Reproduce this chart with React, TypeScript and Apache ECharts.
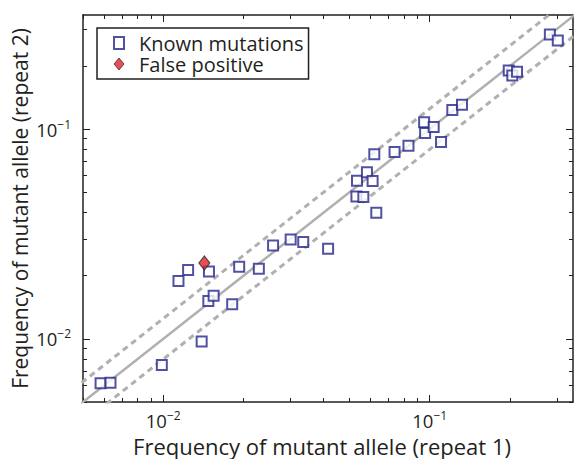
import React, { useEffect, useRef } from "react";
import * as echarts from "echarts";

// ---- data ----
const knownX = [0.00582, 0.00634, 0.00988, 0.01394, 0.01141, 0.0124, 0.01485, 0.01477, 0.01546, 0.01815, 0.01928, 0.02285, 0.02584, 0.03008, 0.03353, 0.04157, 0.05336, 0.05815, 0.06107, 0.05309, 0.05637, 0.06304, 0.06196, 0.07382, 0.08325, 0.0953, 0.09612, 0.1035, 0.1103, 0.1216, 0.1322, 0.198, 0.2042, 0.2127, 0.2825, 0.3025];
const knownY = [0.00614, 0.00617, 0.00751, 0.00971, 0.01886, 0.02128, 0.02096, 0.01514, 0.01604, 0.01464, 0.02207, 0.02159, 0.02788, 0.02979, 0.02895, 0.02689, 0.05679, 0.0622, 0.05659, 0.04778, 0.04747, 0.03994, 0.07583, 0.07786, 0.0834, 0.1078, 0.0959, 0.1024, 0.0869, 0.1235, 0.1305, 0.1902, 0.1801, 0.1875, 0.2825, 0.2645];
const falseX = [0.01427];
const falseY = [0.02298];
const xRange = [0.005, 0.345];
const yRange = [0.005, 0.35];
const lineExtent = [0.003, 0.6];
const bandFactor = 1.25;
const majorTicks = [0.01, 0.1];
const minorTicks = [0.005, 0.006, 0.007, 0.008, 0.009, 0.02, 0.03, 0.04, 0.05, 0.06, 0.07, 0.08, 0.09, 0.2, 0.3];
const seriesNames = ["Known mutations", "False positive"];
const xTitle = "Frequency of mutant allele (repeat 1)";
const yTitle = "Frequency of mutant allele (repeat 2)";

const FONT = "Open Sans";
const INK = "#231f20";
const BLUE = "#25258a";
const RED = "#e3202a";
const GRAY = "#b0b0b0";

const fmt = (v: number) => {
  const e = Math.round(Math.log10(v));
  return `{b|10}{s|\u2212${-e}}`;
};
const rich = {
  b: { fontSize: 18.5, fontFamily: FONT, color: INK, lineHeight: 16 },
  s: { fontSize: 12, fontFamily: FONT, color: INK, padding: [0, 0, 10, 0], lineHeight: 12 },
};

function axis(kind: "x" | "y", pos: string, ticks: number[], len: number, labels: boolean, line: boolean, extra: any = {}) {
  const r = kind === "x" ? xRange : yRange;
  return {
    type: "log",
    logBase: 10,
    position: pos,
    min: r[0],
    max: r[1],
    axisLine: { show: line, onZero: false, lineStyle: { color: INK, width: 1.5 } },
    axisTick: { show: true, inside: true, length: len, customValues: ticks, lineStyle: { color: INK, width: 1 } },
    axisLabel: labels
      ? { show: true, customValues: majorTicks, formatter: fmt, rich, margin: kind === "x" ? 10 : 12 }
      : { show: false },
    splitLine: { show: false },
    minorTick: { show: false },
    ...extra,
  };
}

export default function App() {
  const ref = useRef<HTMLDivElement>(null);
  useEffect(() => {
    const chart = echarts.init(ref.current!, null, { renderer: "svg" });
    const line = (k: number, dashed: boolean) => ({
      type: "line",
      data: lineExtent.map((x) => [x, x * k]),
      showSymbol: false,
      clip: true,
      silent: true,
      z: 1,
      lineStyle: dashed
        ? { color: GRAY, width: 3, type: [6, 4.5] }
        : { color: GRAY, width: 2.5 },
      legendHoverLink: false,
    });
    chart.setOption({
      animation: false,
      backgroundColor: "#ffffff",
      grid: { left: 83, top: 15, right: 1, bottom: 57, containLabel: false, outerBoundsMode: "none" },
      xAxis: [
        axis("x", "bottom", majorTicks, 7, true, true, {
          name: xTitle,
          nameLocation: "middle",
          nameGap: 34,
          nameMoveOverlap: false,
          nameTextStyle: { fontSize: 22, fontFamily: FONT, color: INK, lineHeight: 20, padding: [0, 12, 0, 0] },
        }),
        axis("x", "bottom", minorTicks, 4, false, false),
        axis("x", "top", majorTicks, 7, false, true),
        axis("x", "top", minorTicks, 4, false, false),
      ],
      yAxis: [
        axis("y", "left", majorTicks, 7, true, true, {
          name: yTitle,
          nameLocation: "middle",
          nameRotate: 90,
          nameGap: 53,
          nameMoveOverlap: false,
          nameTextStyle: { fontSize: 21, fontFamily: FONT, color: INK, lineHeight: 21 },
        }),
        axis("y", "left", minorTicks, 4, false, false),
        axis("y", "right", majorTicks, 7, false, true),
        axis("y", "right", minorTicks, 4, false, false),
      ],
      legend: {
        orient: "vertical",
        left: 97,
        top: 28,
        padding: [5, 5, 5, 16],
        itemGap: 1,
        itemWidth: 10,
        itemHeight: 12,
        backgroundColor: "#ffffff",
        borderColor: INK,
        borderWidth: 1.5,
        borderRadius: 0,
        textStyle: { fontSize: 20, fontFamily: FONT, color: INK, lineHeight: 20, padding: [0, 0, 0, 10] },
        data: [
          { name: seriesNames[0], icon: "rect", itemStyle: { color: "#ffffff", borderColor: BLUE, borderWidth: 2 } },
          { name: seriesNames[1], icon: "diamond", itemStyle: { color: RED, borderColor: "#333", borderWidth: 1 } },
        ],
      },
      series: [
        line(1, false),
        line(bandFactor, true),
        line(1 / bandFactor, true),
        {
          name: seriesNames[0],
          type: "scatter",
          symbol: "rect",
          symbolSize: 10,
          z: 3,
          itemStyle: { color: "#ffffff", borderColor: BLUE, borderWidth: 2 },
          data: knownX.map((x, i) => [x, knownY[i]]),
        },
        {
          name: seriesNames[1],
          type: "scatter",
          symbol: "diamond",
          symbolSize: [11, 14],
          z: 4,
          itemStyle: { color: RED, borderColor: "#333", borderWidth: 1.2 },
          data: falseX.map((x, i) => [x, falseY[i]]),
        },
      ],
    });
    return () => chart.dispose();
  }, []);
  return <div ref={ref} style={{ position: "absolute", left: 0, top: 0, width: 574, height: 459 }} />;
}
